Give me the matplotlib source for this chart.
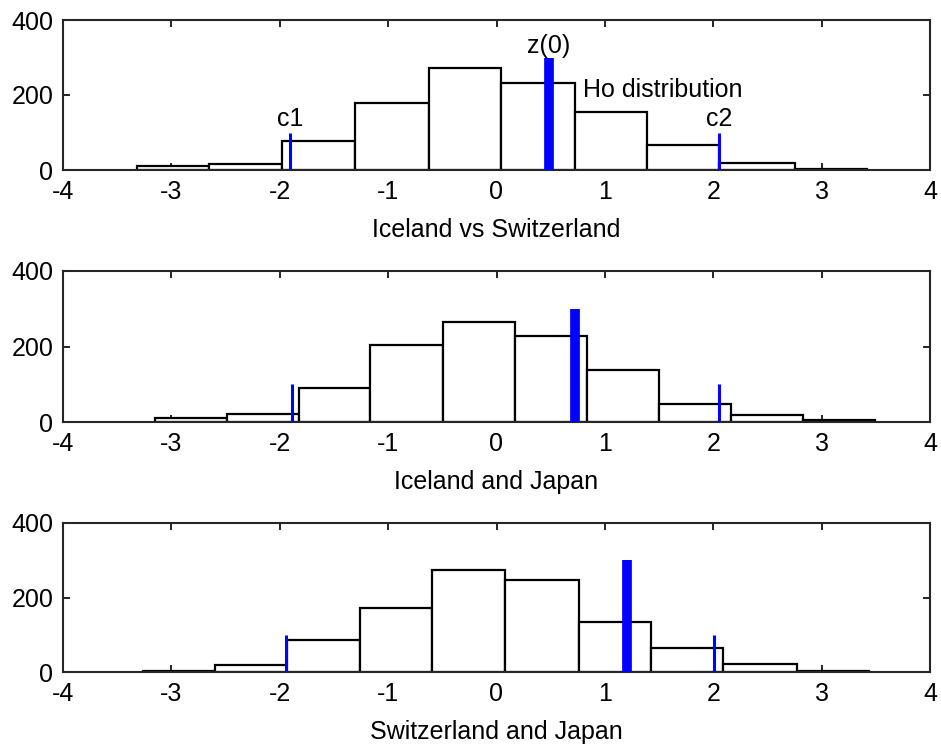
import numpy as np
import matplotlib
matplotlib.use("Agg")
import matplotlib.pyplot as plt

plt.rcParams['font.family'] = ['Liberation Sans', 'DejaVu Sans']
plt.rcParams['axes.unicode_minus'] = False

# histogram bin edges and counts of the simulated null statistic
edges_is = [-3.317, -2.652, -1.977, -1.307, -0.626, 0.044, 0.725, 1.390, 2.054, 2.757, 3.420]
counts_is = [10, 17, 77, 178, 273, 231, 156, 66, 20, 3]

edges_ij = [-3.151, -2.486, -1.822, -1.163, -0.493, 0.172, 0.836, 1.501, 2.165, 2.829, 3.494]
counts_ij = [10, 20, 90, 205, 265, 228, 139, 48, 18, 4]

edges_sj = [-3.263, -2.598, -1.934, -1.258, -0.592, 0.078, 0.764, 1.429, 2.093, 2.774, 3.438]
counts_sj = [4, 20, 87, 171, 273, 246, 133, 65, 22, 4]

# critical values and observed statistic for each comparison
c1_vals = [-1.905, -1.888, -1.944]
c2_vals = [2.054, 2.054, 2.004]
z0_vals = [0.485, 0.720, 1.207]
crit_height = 100
z0_height = 300

titles = ['Iceland vs Switzerland', 'Iceland and Japan', 'Switzerland and Japan']
all_edges = [edges_is, edges_ij, edges_sj]
all_counts = [counts_is, counts_ij, counts_sj]

FS = 18

W, H = 941, 746
fig = plt.figure(figsize=(W / 100, H / 100), dpi=100)

# axes boxes in pixels: (top, bottom)
rows = [(20, 170), (271, 422), (523, 672)]
left_px, right_px = 63, 930

for i, (top, bottom) in enumerate(rows):
    ax = fig.add_axes([left_px / W, 1 - bottom / H,
                       (right_px - left_px) / W, (bottom - top) / H])
    edges = np.array(all_edges[i])
    counts = np.array(all_counts[i])
    ax.bar(edges[:-1], counts, width=np.diff(edges), align='edge',
           facecolor='white', edgecolor='black', linewidth=1.6, zorder=2)

    ax.plot([c1_vals[i]] * 2, [0, crit_height], color='#0000ff', lw=2.2,
            solid_capstyle='butt', zorder=3)
    ax.plot([c2_vals[i]] * 2, [0, crit_height], color='#0000ff', lw=2.2,
            solid_capstyle='butt', zorder=3)
    ax.plot([z0_vals[i]] * 2, [0, z0_height], color='#0000ff', lw=7,
            solid_capstyle='butt', zorder=3)

    if i == 0:
        ax.text(c1_vals[i], crit_height + 4, 'c1', ha='center', va='bottom', fontsize=FS)
        ax.text(c2_vals[i], crit_height + 4, 'c2', ha='center', va='bottom', fontsize=FS)
        ax.text(z0_vals[i], z0_height - 2, 'z(0)', ha='center', va='bottom', fontsize=FS)
        ax.text(0.80, 213, 'Ho distribution', ha='left', va='center', fontsize=FS)

    ax.set_xlim(-4, 4)
    ax.set_ylim(0, 400)
    ax.set_xticks(range(-4, 5))
    ax.set_yticks([0, 200, 400])
    ax.tick_params(direction='in', top=True, right=True, length=5, width=1.2,
                   labelsize=FS)
    ax.tick_params(axis='x', pad=7)
    ax.tick_params(axis='y', pad=7)
    for sp in ax.spines.values():
        sp.set_linewidth(1.5)
        sp.set_color('#262626')
    ax.set_xlabel(titles[i], fontsize=FS, labelpad=10)

fig.savefig('out.png', dpi=100)
